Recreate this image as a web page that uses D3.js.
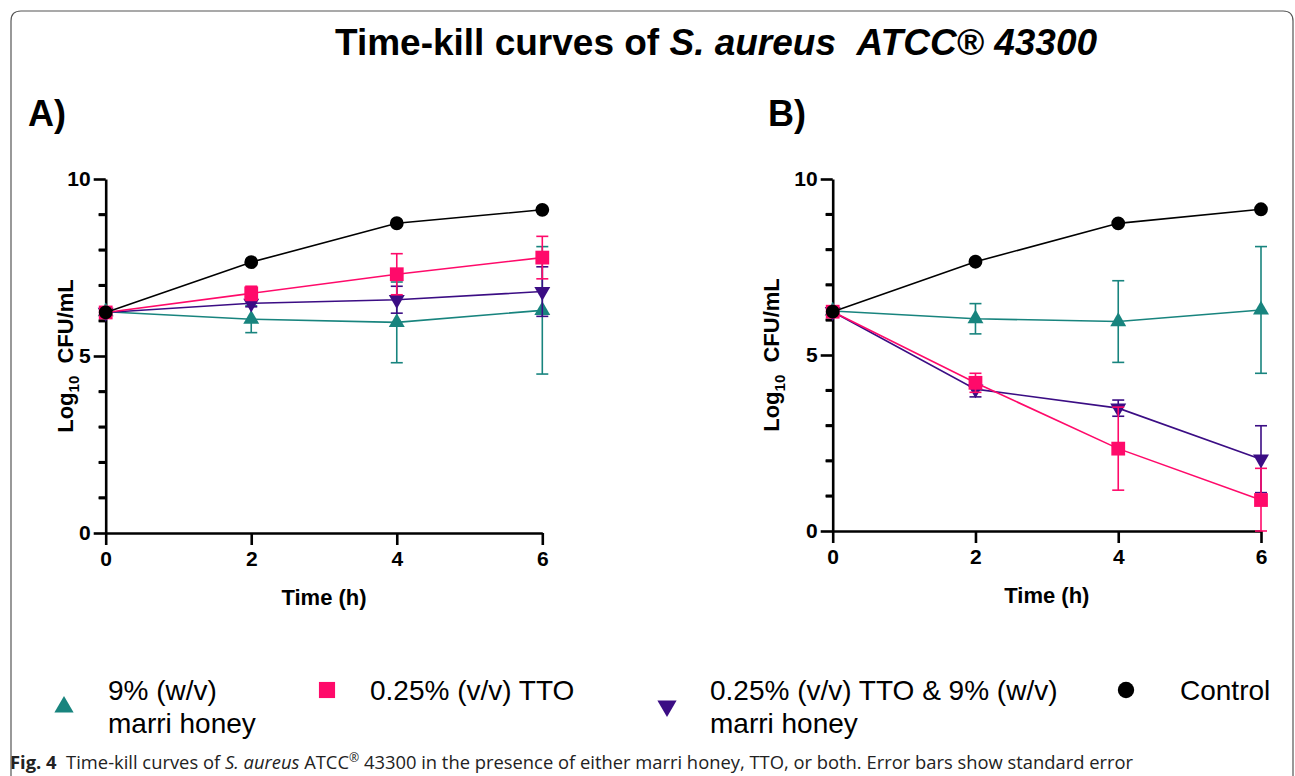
<!DOCTYPE html>
<html lang="en">
<head>
<meta charset="utf-8">
<title>Time-kill curves</title>
<script src="https://d3js.org/d3.v7.min.js"></script>
<style>
  body { margin: 0; background: #fff; }
  svg { display: block; font-family: "Liberation Sans", Arial, sans-serif; }
</style>
</head>
<body>
<svg id="chart" width="1295" height="776"></svg>
<script>
// data
var times = [0, 2, 4, 6]
var yTicks = [0, 1, 2, 3, 4, 5, 6, 7, 8, 9, 10]
var yLabelled = [0, 5, 10]

// panel A
var aControl = [6.23, 7.65, 8.75, 9.13]
var aControlErr = [0, 0, 0, 0]
var aHoney = [6.25, 6.04, 5.95, 6.29]
var aHoneyErr = [0, 0.38, 1.14, 1.8]
var aTTO = [6.23, 6.77, 7.31, 7.78]
var aTTOErr = [0, 0.2, 0.58, 0.6]
var aCombo = [6.23, 6.49, 6.59, 6.82]
var aComboErr = [0, 0.1, 0.38, 0.7]

// panel B
var bControl = [6.23, 7.65, 8.74, 9.14]
var bControlErr = [0, 0, 0, 0]
var bHoney = [6.25, 6.03, 5.95, 6.28]
var bHoneyErr = [0, 0.43, 1.16, 1.8]
var bTTO = [6.23, 4.21, 2.34, 0.88]
var bTTOErr = [0, 0.27, 1.18, 0.9]
var bCombo = [6.23, 4.03, 3.49, 2.04]
var bComboErr = [0, 0.22, 0.23, 0.95]

var legendNames = [["9% (w/v)", "marri honey"], ["0.25% (v/v) TTO"], ["0.25% (v/v) TTO & 9% (w/v)", "marri honey"], ["Control"]]

// colours
var teal = "#18847e"
var pink = "#ff0a6a"
var purple = "#3b0d84"
var black = "#000000"

var svg = d3.select("#chart")

// frame with rounded top, open at the bottom
svg.append("path")
  .attr("d", "M11,776 L11,21 Q11,11 21,11 L1283,11 Q1293,11 1293,21 L1293,776")
  .attr("fill", "none")
  .attr("stroke", "#555")
  .attr("stroke-width", 1.2)

// title
var title = svg.append("text")
  .attr("x", 716).attr("y", 55)
  .attr("text-anchor", "middle")
  .style("font-size", "37px").style("font-weight", "bold")
title.append("tspan").text("Time-kill curves of ")
title.append("tspan").style("font-style", "italic").text("S. aureus\u00a0\u00a0ATCC\u00ae 43300")

function drawPanel(cfg) {
  var x = d3.scaleLinear().domain([0, 6]).range([cfg.x0, cfg.x1])
  var y = d3.scaleLinear().domain([0, 10]).range([cfg.y0, cfg.y1])
  var g = svg.append("g")

  // panel letter
  g.append("text").attr("x", cfg.letterX).attr("y", 126)
    .style("font-size", "36px").style("font-weight", "bold").text(cfg.letter)

  // axes: one tick per unit, long + labelled at 0, 5, 10
  var yAxis = d3.axisLeft(y).tickValues(yTicks).tickSize(7).tickSizeOuter(0).tickPadding(3)
    .tickFormat(function (d) { return yLabelled.indexOf(d) >= 0 ? d3.format("d")(d) : "" })
  var xAxis = d3.axisBottom(x).tickValues(times).tickSize(12).tickSizeOuter(0).tickPadding(6).tickFormat(d3.format("d"))

  var ya = g.append("g").attr("transform", "translate(" + cfg.x0 + ",0)").call(yAxis)
  ya.selectAll(".tick").filter(function (d) { return yLabelled.indexOf(d) >= 0 })
    .select("line").attr("x2", -12)
  ya.selectAll(".tick").filter(function (d) { return yLabelled.indexOf(d) >= 0 })
    .select("text").attr("x", -15)
  var xa = g.append("g").attr("transform", "translate(0," + cfg.y0 + ")").call(xAxis)
  ;[ya, xa].forEach(function (a) {
    a.attr("font-size", 21).attr("font-family", "Liberation Sans, Arial, sans-serif")
    a.selectAll("path, line").attr("stroke", "#000").attr("stroke-width", 2.6)
    a.selectAll("text").attr("fill", "#000").attr("font-weight", "bold")
  })

  // minor ticks again as plain lines, so they are sure to show
  g.append("g").selectAll("line")
    .data(yTicks.filter(function (d) { return yLabelled.indexOf(d) < 0 }))
    .enter().append("line")
    .attr("x1", cfg.x0 - 7).attr("x2", cfg.x0)
    .attr("y1", function (d) { return y(d) }).attr("y2", function (d) { return y(d) })
    .attr("stroke", "#000").attr("stroke-width", 2.6)

  // axis titles
  g.append("text")
    .attr("x", (cfg.x0 + cfg.x1) / 2).attr("y", cfg.y0 + 72)
    .attr("text-anchor", "middle")
    .style("font-size", "22px").style("font-weight", "bold").text("Time (h)")
  var yl = g.append("text")
    .attr("transform", "translate(" + cfg.yLabelX + "," + (cfg.y0 + cfg.y1) / 2 + ") rotate(-90)")
    .attr("text-anchor", "middle")
    .style("font-size", "22px").style("font-weight", "bold")
  yl.append("tspan").text("Log")
  yl.append("tspan").attr("dy", 6).style("font-size", "15px").text("10")
  yl.append("tspan").attr("dy", -6).text("\u00a0 CFU/mL")

  var line = d3.line().x(function (d) { return x(d.t) }).y(function (d) { return y(d.v) })

  cfg.series.forEach(function (s) {
    var pts = times.map(function (t, i) { return { t: t, v: s.values[i], e: s.err[i] } })
    var sg = g.append("g")
    sg.append("path").datum(pts).attr("d", line)
      .attr("fill", "none").attr("stroke", s.color).attr("stroke-width", 1.6)

    // error bars
    var eb = sg.selectAll(".eb").data(pts.filter(function (d) { return d.e > 0 })).enter().append("g")
    eb.append("line")
      .attr("x1", function (d) { return x(d.t) }).attr("x2", function (d) { return x(d.t) })
      .attr("y1", function (d) { return y(Math.max(0, d.v - d.e)) }).attr("y2", function (d) { return y(d.v + d.e) })
      .attr("stroke", s.color).attr("stroke-width", 1.6)
    eb.append("line")
      .attr("x1", function (d) { return x(d.t) - 6 }).attr("x2", function (d) { return x(d.t) + 6 })
      .attr("y1", function (d) { return y(d.v + d.e) }).attr("y2", function (d) { return y(d.v + d.e) })
      .attr("stroke", s.color).attr("stroke-width", 1.6)
    eb.append("line")
      .attr("x1", function (d) { return x(d.t) - 6 }).attr("x2", function (d) { return x(d.t) + 6 })
      .attr("y1", function (d) { return y(Math.max(0, d.v - d.e)) }).attr("y2", function (d) { return y(Math.max(0, d.v - d.e)) })
      .attr("stroke", s.color).attr("stroke-width", 1.6)

    sg.selectAll(".mk").data(pts).enter().append("path")
      .attr("transform", function (d) { return "translate(" + x(d.t) + "," + y(d.v) + ")" + (s.down ? " rotate(180)" : "") })
      .attr("d", d3.symbol().type(s.symbol).size(s.size))
      .attr("fill", s.color)
  })
}

drawPanel({
  letter: "A)", letterX: 28, x0: 105.7, x1: 542.3, y0: 533, y1: 179, yLabelX: 73,
  series: [
    { values: aHoney, err: aHoneyErr, color: teal, symbol: d3.symbolTriangle, size: 110 },
    { values: aCombo, err: aComboErr, color: purple, symbol: d3.symbolTriangle, size: 110, down: true },
    { values: aTTO, err: aTTOErr, color: pink, symbol: d3.symbolSquare, size: 190 },
    { values: aControl, err: aControlErr, color: black, symbol: d3.symbolCircle, size: 150 }
  ]
})

drawPanel({
  letter: "B)", letterX: 768, x0: 832.7, x1: 1261, y0: 531, y1: 179, yLabelX: 779,
  series: [
    { values: bHoney, err: bHoneyErr, color: teal, symbol: d3.symbolTriangle, size: 110 },
    { values: bCombo, err: bComboErr, color: purple, symbol: d3.symbolTriangle, size: 110, down: true },
    { values: bTTO, err: bTTOErr, color: pink, symbol: d3.symbolSquare, size: 190 },
    { values: bControl, err: bControlErr, color: black, symbol: d3.symbolCircle, size: 150 }
  ]
})

// legend
var legendItems = [
  { mx: 64, my: 707, tx: 108, color: teal, symbol: d3.symbolTriangle, size: 160 },
  { mx: 327, my: 690, tx: 370, color: pink, symbol: d3.symbolSquare, size: 260 },
  { mx: 667, my: 706, tx: 710, color: purple, symbol: d3.symbolTriangle, size: 160, down: true },
  { mx: 1126, my: 690, tx: 1180, color: black, symbol: d3.symbolCircle, size: 210 }
]
var lg = svg.append("g")
legendItems.forEach(function (it, i) {
  lg.append("path")
    .attr("transform", "translate(" + it.mx + "," + it.my + ")" + (it.down ? " rotate(180)" : ""))
    .attr("d", d3.symbol().type(it.symbol).size(it.size))
    .attr("fill", it.color)
  legendNames[i].forEach(function (ln, j) {
    lg.append("text").attr("x", it.tx).attr("y", 700 + j * 33)
      .style("font-size", "28px").text(ln)
  })
})

// caption
var cap = svg.append("text").attr("x", 10).attr("y", 769)
  .attr("textLength", 1123).attr("lengthAdjust", "spacingAndGlyphs")
  .style("font-family", "'Open Sans', 'Noto Sans', sans-serif").style("font-size", "18px").attr("fill", "#222")
cap.append("tspan").style("font-weight", "bold").text("Fig. 4")
cap.append("tspan").text("\u00a0 Time-kill curves of ")
cap.append("tspan").style("font-style", "italic").text("S. aureus")
cap.append("tspan").text(" ATCC")
cap.append("tspan").attr("dy", -7).style("font-size", "12px").text("\u00ae")
cap.append("tspan").attr("dy", 7).text(" 43300 in the presence of either marri honey, TTO, or both. Error bars show standard error")
</script>
</body>
</html>
